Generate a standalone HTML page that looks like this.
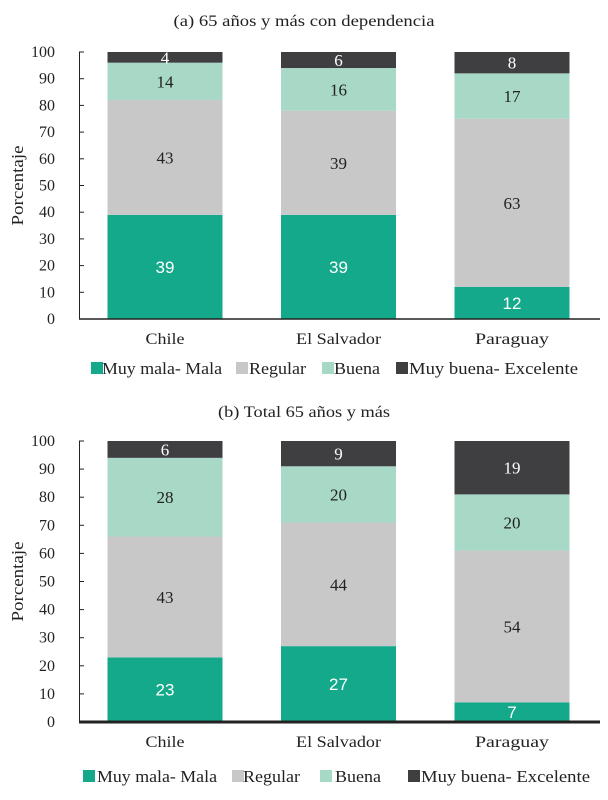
<!DOCTYPE html>
<html><head><meta charset="utf-8"><style>
body{margin:0;background:#fff;width:608px;height:800px;overflow:hidden}
svg{display:block}
text{font-family:"Liberation Serif",serif;fill:#222}
</style></head><body>
<svg id="s" width="608" height="800"></svg>
<script>
const categories=["Chile","El Salvador","Paraguay"];
const seriesNames=["Muy mala- Mala","Regular","Buena","Muy buena- Excelente"];
const colors=["#14a98a","#c8c8c9","#a8d8c6","#3f3f41"];
const aMala=[39,39,12], aRegular=[43,39,63], aBuena=[14,16,17], aExc=[4,6,8];
const bMala=[23,27,7], bRegular=[43,44,54], bBuena=[28,20,20], bExc=[6,9,19];
const ticks=[0,10,20,30,40,50,60,70,80,90,100];
const NS="http://www.w3.org/2000/svg";
const svg=document.getElementById('s');
const catW=[39,85,74];
const legW=[120,57,46,169];
function el(t,a,p){const e=document.createElementNS(NS,t);for(const k in a)e.setAttribute(k,a[k]);(p||svg).appendChild(e);return e;}
function panel(cfg){
  const g=el('g',{});
  
  
  const y=v=>cfg.y0-(cfg.y0-cfg.y100)*v/100;
  const xc=i=>165+i*173.5;
  const t=el('text',{x:304,y:cfg.titleY,'text-anchor':'middle','font-size':16,textLength:cfg.titleW,lengthAdjust:'spacingAndGlyphs'},g);t.textContent=cfg.title;
  
  const yt=el('text',{x:0,y:0,'text-anchor':'middle','font-size':17,textLength:80,lengthAdjust:'spacingAndGlyphs',transform:`translate(23,${(cfg.y0+cfg.y100)/2}) rotate(-90)`},g);yt.textContent="Porcentaje";
  
  ticks.forEach(v=>{
    const tl=el('text',{x:55,y:y(v)+5,'text-anchor':'end','font-size':16},g);tl.textContent=v;
    
    el('line',{x1:79,x2:84,y1:y(v),y2:y(v),stroke:'#222','stroke-width':1},g);
  });
  const series=cfg.series;
  categories.forEach((c,i)=>{
    let cum=0;
    series.forEach((arr,s)=>{
      const v=arr[i];
      const r=el('rect',{x:xc(i)-57.5,y:y(cum+v),width:115,height:y(cum)-y(cum+v),fill:colors[s]},g);
      
      
      const lbl=el('text',{x:xc(i),y:(y(cum)+y(cum+v))/2+6,'text-anchor':'middle','font-size':17,style:'fill:'+((s==0||s==3)?'#fff':'#222')+((s==0)?';font-family:"Liberation Sans",sans-serif':'')},g);
      lbl.textContent=v;
      
      cum+=v;
    });
    const cl=el('text',{x:xc(i),y:cfg.y0+25,'text-anchor':'middle','font-size':16,textLength:catW[i],lengthAdjust:'spacingAndGlyphs'},g);cl.textContent=c;
    
  });
  el('line',{x1:79.5,x2:79.5,y1:cfg.y100,y2:cfg.y0,stroke:'#222','stroke-width':1},g);
  el('line',{x1:79,x2:600,y1:cfg.y0,y2:cfg.y0,stroke:'#222','stroke-width':cfg.bw},g);
  cfg.legend.forEach((lx,s)=>{
    el('rect',{x:lx,y:cfg.legY-12,width:12,height:12,fill:colors[s]},g);
    const lt=el('text',{x:cfg.legT[s],y:cfg.legY,'font-size':17,textLength:legW[s],lengthAdjust:'spacingAndGlyphs'},g);lt.textContent=seriesNames[s];
    
  });
}
panel({name:'panel-a',title:'(a) 65 años y más con dependencia',titleW:261,titleY:26,y0:319,y100:52,bw:1.5,series:[aMala,aRegular,aBuena,aExc],legend:[91,236,322,396],legT:[102,249,334,409],legY:374});
panel({name:'panel-b',title:'(b) Total 65 años y más',titleW:172,titleY:417,y0:722,y100:441,bw:3,series:[bMala,bRegular,bBuena,bExc],legend:[83,232,320,408],legT:[97,243,335,421],legY:782});
</script>
</body></html>
